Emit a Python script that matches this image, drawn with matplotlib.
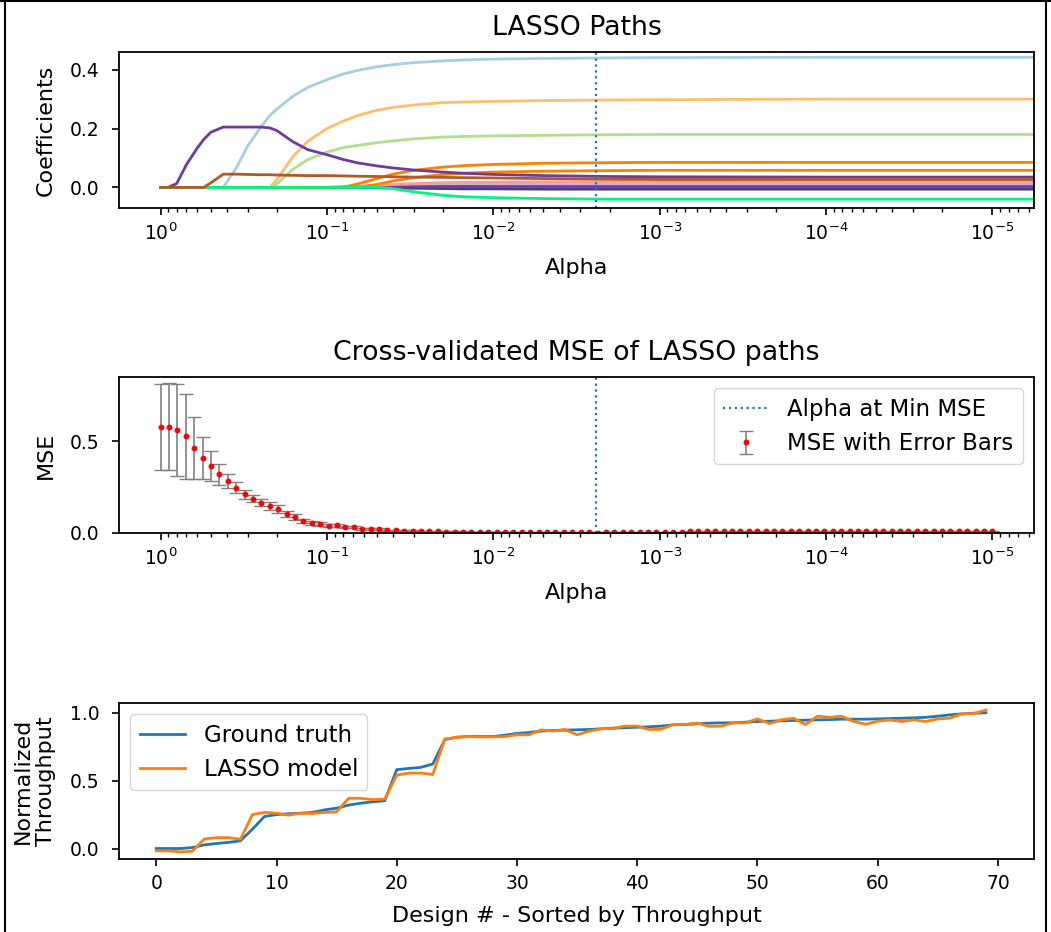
import numpy as np
import matplotlib
matplotlib.use('Agg')
import matplotlib.pyplot as plt
from matplotlib.lines import Line2D

plt.rcParams['xtick.labelsize'] = 13.5
plt.rcParams['ytick.labelsize'] = 13.5
plt.rcParams['axes.labelsize'] = 16
plt.rcParams['axes.titlesize'] = 19.3
plt.rcParams['axes.titlepad'] = 12
plt.rcParams['axes.labelpad'] = 10
plt.rcParams['legend.fontsize'] = 16.5
plt.rcParams['axes.linewidth'] = 1.3
plt.rcParams['lines.linewidth'] = 2.0
plt.rcParams['xtick.major.size'] = 5
plt.rcParams['ytick.major.size'] = 5
plt.rcParams['xtick.minor.size'] = 3
plt.rcParams['xtick.major.width'] = 1.2
plt.rcParams['ytick.major.width'] = 1.2
plt.rcParams['xtick.minor.width'] = 1.0
plt.rcParams['xtick.major.pad'] = 5.5
plt.rcParams['ytick.major.pad'] = 9

# ---- LASSO paths (coefficients read along the alpha grid) ----
path_alphas = [1.0, 0.9, 0.8, 0.7, 0.6, 0.55, 0.5, 0.42, 0.35, 0.3,
               0.25, 0.22, 0.2, 0.16, 0.13, 0.1, 0.08, 0.065, 0.05, 0.04,
               0.03, 0.02, 0.015, 0.01, 0.005, 0.002, 0.001, 1e-4, 1e-5, 5e-6]

coef_lavender = [0, 0, 0, 0, 0, 0, 0, 0, 0, 0, 0, 0, 0, 0, 0, 0, 0.001, 0.002,
                 0.003, 0.005, 0.007, 0.009, 0.010, 0.011, 0.012, 0.012, 0.012,
                 0.012, 0.012, 0.012]
coef_dark = [0, 0, 0, 0, 0, 0, 0, 0, 0, 0, 0, 0, 0, 0, 0, 0, 0, 0,
             -0.001, -0.002, -0.003, -0.004, -0.005, -0.005, -0.006, -0.006,
             -0.006, -0.006, -0.006, -0.006]
coef_purple2 = [0, 0, 0, 0, 0, 0, 0, 0, 0, 0, 0, 0, 0, 0, 0, 0, 0.001, 0.001,
                0.002, 0.002, 0.002, 0.003, 0.003, 0.003, 0.003, 0.003, 0.003,
                0.003, 0.003, 0.003]
coef_pink = [0, 0, 0, 0, 0, 0, 0, 0, 0, 0, 0, 0, 0, 0, 0, 0, 0.002, 0.004,
             0.007, 0.010, 0.013, 0.016, 0.017, 0.018, 0.019, 0.020, 0.020,
             0.020, 0.020, 0.020]
coef_orange_b = [0, 0, 0, 0, 0, 0, 0, 0, 0, 0, 0, 0, 0, 0, 0, 0, 0, 0,
                 0.010, 0.022, 0.033, 0.044, 0.048, 0.052, 0.055, 0.057, 0.058,
                 0.058, 0.058, 0.058]
coef_orange_a = [0, 0, 0, 0, 0, 0, 0, 0, 0, 0, 0, 0, 0, 0, 0, 0, 0, 0.012,
                 0.030, 0.045, 0.058, 0.069, 0.074, 0.078, 0.082, 0.084, 0.085,
                 0.085, 0.085, 0.085]
coef_lgreen = [0, 0, 0, 0, 0, 0, 0, 0, 0, 0, 0, 0, 0.012, 0.062, 0.095, 0.120,
               0.135, 0.143, 0.152, 0.158, 0.165, 0.171, 0.173, 0.175, 0.177,
               0.179, 0.180, 0.180, 0.180, 0.180]
coef_lorange = [0, 0, 0, 0, 0, 0, 0, 0, 0, 0, 0, 0, 0.027, 0.105, 0.157, 0.200,
                0.225, 0.245, 0.262, 0.272, 0.280, 0.288, 0.290, 0.292, 0.295,
                0.297, 0.298, 0.300, 0.300, 0.300]
coef_lblue = [0, 0, 0, 0, 0, 0, 0, 0, 0.067, 0.140, 0.205, 0.245, 0.266, 0.310,
              0.340, 0.366, 0.385, 0.398, 0.410, 0.417, 0.424, 0.430, 0.433,
              0.436, 0.438, 0.440, 0.441, 0.442, 0.442, 0.442]
coef_purple = [0, 0, 0.013, 0.077, 0.135, 0.163, 0.187, 0.205, 0.205, 0.205,
               0.205, 0.202, 0.193, 0.155, 0.128, 0.111, 0.095, 0.083, 0.073,
               0.066, 0.059, 0.052, 0.048, 0.044, 0.040, 0.037, 0.036, 0.035,
               0.035, 0.035]
coef_spring = [0, 0, 0, 0, 0, 0, 0, 0, 0, 0, 0, 0, 0, 0, 0, 0, 0, 0, 0,
               -0.004, -0.015, -0.027, -0.032, -0.035, -0.038, -0.040, -0.040,
               -0.040, -0.040, -0.040]
coef_brown = [0, 0, 0, 0, 0, 0, 0.015, 0.045, 0.045, 0.044, 0.043, 0.043,
              0.042, 0.041, 0.040, 0.040, 0.039, 0.038, 0.037, 0.036, 0.035,
              0.034, 0.033, 0.032, 0.030, 0.028, 0.027, 0.027, 0.027, 0.027]

paths = [(coef_lavender, '#cab2d6'), (coef_dark, '#4b3b7a'),
         (coef_purple2, '#6a3d9a'), (coef_pink, '#fb9a99'),
         (coef_orange_b, '#ff7f00'), (coef_orange_a, '#ff7f00'),
         (coef_lgreen, '#b2df8a'), (coef_lorange, '#fdbf6f'),
         (coef_lblue, '#a6cee3'), (coef_purple, '#6a3d9a'),
         (coef_spring, '#00f57f'), (coef_brown, '#b15928')]

alpha_min = 0.0024

# ---- cross-validated MSE ----
cv_alphas = np.logspace(0, -5, 100)
mse = [0.579, 0.579, 0.562, 0.526, 0.463, 0.410, 0.364, 0.319, 0.284, 0.247,
       0.211, 0.187, 0.165, 0.147, 0.130, 0.103, 0.086, 0.066, 0.055, 0.050,
       0.040, 0.042, 0.033, 0.031, 0.024, 0.022, 0.022, 0.015, 0.015, 0.013,
       0.013, 0.011, 0.010, 0.009, 0.008, 0.007, 0.007, 0.006, 0.006, 0.005,
       0.005, 0.004, 0.004, 0.004, 0.004, 0.003, 0.003, 0.003, 0.003, 0.003,
       0.003, 0.003, 0.0025, 0.003, 0.003, 0.003, 0.003, 0.003, 0.003, 0.003,
       0.003, 0.003, 0.003, 0.009, 0.010, 0.010, 0.010, 0.010, 0.010, 0.010,
       0.010, 0.010, 0.010, 0.010, 0.010, 0.010, 0.010, 0.010, 0.010, 0.010,
       0.010, 0.010, 0.010, 0.010, 0.010, 0.010, 0.010, 0.010, 0.010, 0.010,
       0.010, 0.010, 0.010, 0.010, 0.010, 0.010, 0.010, 0.010, 0.010, 0.010]
mse_err = [0.235, 0.236, 0.250, 0.230, 0.170, 0.115, 0.083, 0.055, 0.040, 0.030,
           0.025, 0.020, 0.020, 0.020, 0.020, 0.015, 0.015, 0.012, 0.010, 0.010,
           0.008, 0.008, 0.007, 0.006, 0.005, 0.005, 0.004, 0.004, 0.003, 0.003,
           0.003, 0.002, 0.002, 0.002, 0.002, 0.002, 0.002, 0.002, 0.002, 0.002,
           0.002, 0.002, 0.002, 0.002, 0.002, 0.002, 0.002, 0.002, 0.002, 0.002,
           0.002, 0.002, 0.002, 0.002, 0.002, 0.002, 0.002, 0.002, 0.002, 0.002,
           0.002, 0.002, 0.002, 0.002, 0.002, 0.002, 0.002, 0.002, 0.002, 0.002,
           0.002, 0.002, 0.002, 0.002, 0.002, 0.002, 0.002, 0.002, 0.002, 0.002,
           0.002, 0.002, 0.002, 0.002, 0.002, 0.002, 0.002, 0.002, 0.002, 0.002,
           0.002, 0.002, 0.002, 0.002, 0.002, 0.002, 0.002, 0.002, 0.002, 0.002]

# ---- throughput: ground truth vs model ----
ground_truth = [0.0, 0.0, 0.0, 0.007, 0.027, 0.037, 0.045, 0.057, 0.143, 0.236,
                0.25, 0.256, 0.26, 0.266, 0.285, 0.297, 0.32, 0.334, 0.344, 0.352,
                0.581, 0.59, 0.598, 0.623, 0.802, 0.82, 0.825, 0.825, 0.825, 0.835,
                0.848, 0.855, 0.865, 0.87, 0.872, 0.875, 0.877, 0.882, 0.887, 0.89,
                0.894, 0.897, 0.902, 0.911, 0.914, 0.919, 0.924, 0.926, 0.926, 0.931,
                0.936, 0.938, 0.941, 0.943, 0.946, 0.948, 0.95, 0.953, 0.953, 0.953,
                0.955, 0.958, 0.96, 0.963, 0.967, 0.975, 0.985, 0.992, 0.997, 1.0]
lasso_model = [-0.017, -0.017, -0.025, -0.02, 0.07, 0.08, 0.08, 0.068, 0.25, 0.266,
               0.26, 0.246, 0.26, 0.258, 0.266, 0.27, 0.37, 0.37, 0.36, 0.364,
               0.541, 0.556, 0.556, 0.545, 0.807, 0.82, 0.825, 0.822, 0.823, 0.825,
               0.838, 0.838, 0.874, 0.865, 0.877, 0.838, 0.865, 0.882, 0.885, 0.902,
               0.902, 0.877, 0.879, 0.914, 0.914, 0.924, 0.9, 0.902, 0.926, 0.926,
               0.955, 0.921, 0.948, 0.96, 0.914, 0.975, 0.967, 0.975, 0.936, 0.916,
               0.938, 0.948, 0.936, 0.948, 0.936, 0.955, 0.96, 0.992, 0.995, 1.02]
designs = np.arange(len(ground_truth))

fig = plt.figure(figsize=(10.51, 9.32), dpi=100)
left, width, height = 119 / 1051, 915 / 1051, 156 / 932
xlim_alpha = (10 ** 0.25, 10 ** -5.25)

# LASSO paths
ax1 = fig.add_axes([left, 1 - 208 / 932, width, height])
for coefs, col in paths:
    ax1.plot(path_alphas, coefs, color=col)
ax1.axvline(alpha_min, color='C0', linestyle=':', linewidth=1.6)
ax1.set_xscale('log')
ax1.set_xlim(xlim_alpha)
ax1.set_ylim(-0.07, 0.46)
ax1.set_yticks([0.0, 0.2, 0.4])
ax1.set_xlabel('Alpha')
ax1.set_ylabel('Coefficients')
ax1.set_title('LASSO Paths')

# CV MSE
ax2 = fig.add_axes([left, 1 - 533 / 932, width, height])
ax2.axvline(alpha_min, color='C0', linestyle=':', linewidth=1.6,
            label='Alpha at Min MSE')
ax2.errorbar(cv_alphas, mse, yerr=mse_err, fmt='o', color='red',
             ecolor='gray', elinewidth=1.2, capsize=5, markersize=3.2,
             label='MSE with Error Bars')
ax2.set_xscale('log')
ax2.set_xlim(xlim_alpha)
ax2.set_ylim(0, 0.85)
ax2.set_yticks([0.0, 0.5])
ax2.set_xlabel('Alpha')
ax2.set_ylabel('MSE')
ax2.set_title('Cross-validated MSE of LASSO paths')
ax2.legend(loc='upper right')

# throughput
ax3 = fig.add_axes([left, 1 - 859 / 932, width, height])
ax3.plot(designs, ground_truth, color='C0', label='Ground truth')
ax3.plot(designs, lasso_model, color='C1', label='LASSO model')
ax3.set_xlim(-3.1, 73)
ax3.set_xticks(range(0, 71, 10))
ax3.set_yticks([0.0, 0.5, 1.0])
ax3.set_xlabel('Design # - Sorted by Throughput')
ax3.set_ylabel('Normalized\nThroughput')
ax3.legend(loc='upper left')

# frame around the screenshot
for xs, ys in [([4.5 / 1051, 4.5 / 1051], [0, 1]),
               ([0, 1], [1 - 1 / 932, 1 - 1 / 932]),
               ([1046 / 1051, 1046 / 1051], [0, 1])]:
    fig.add_artist(Line2D(xs, ys, transform=fig.transFigure, color='black',
                          linewidth=1.5))

fig.savefig('out.png', dpi=100)
